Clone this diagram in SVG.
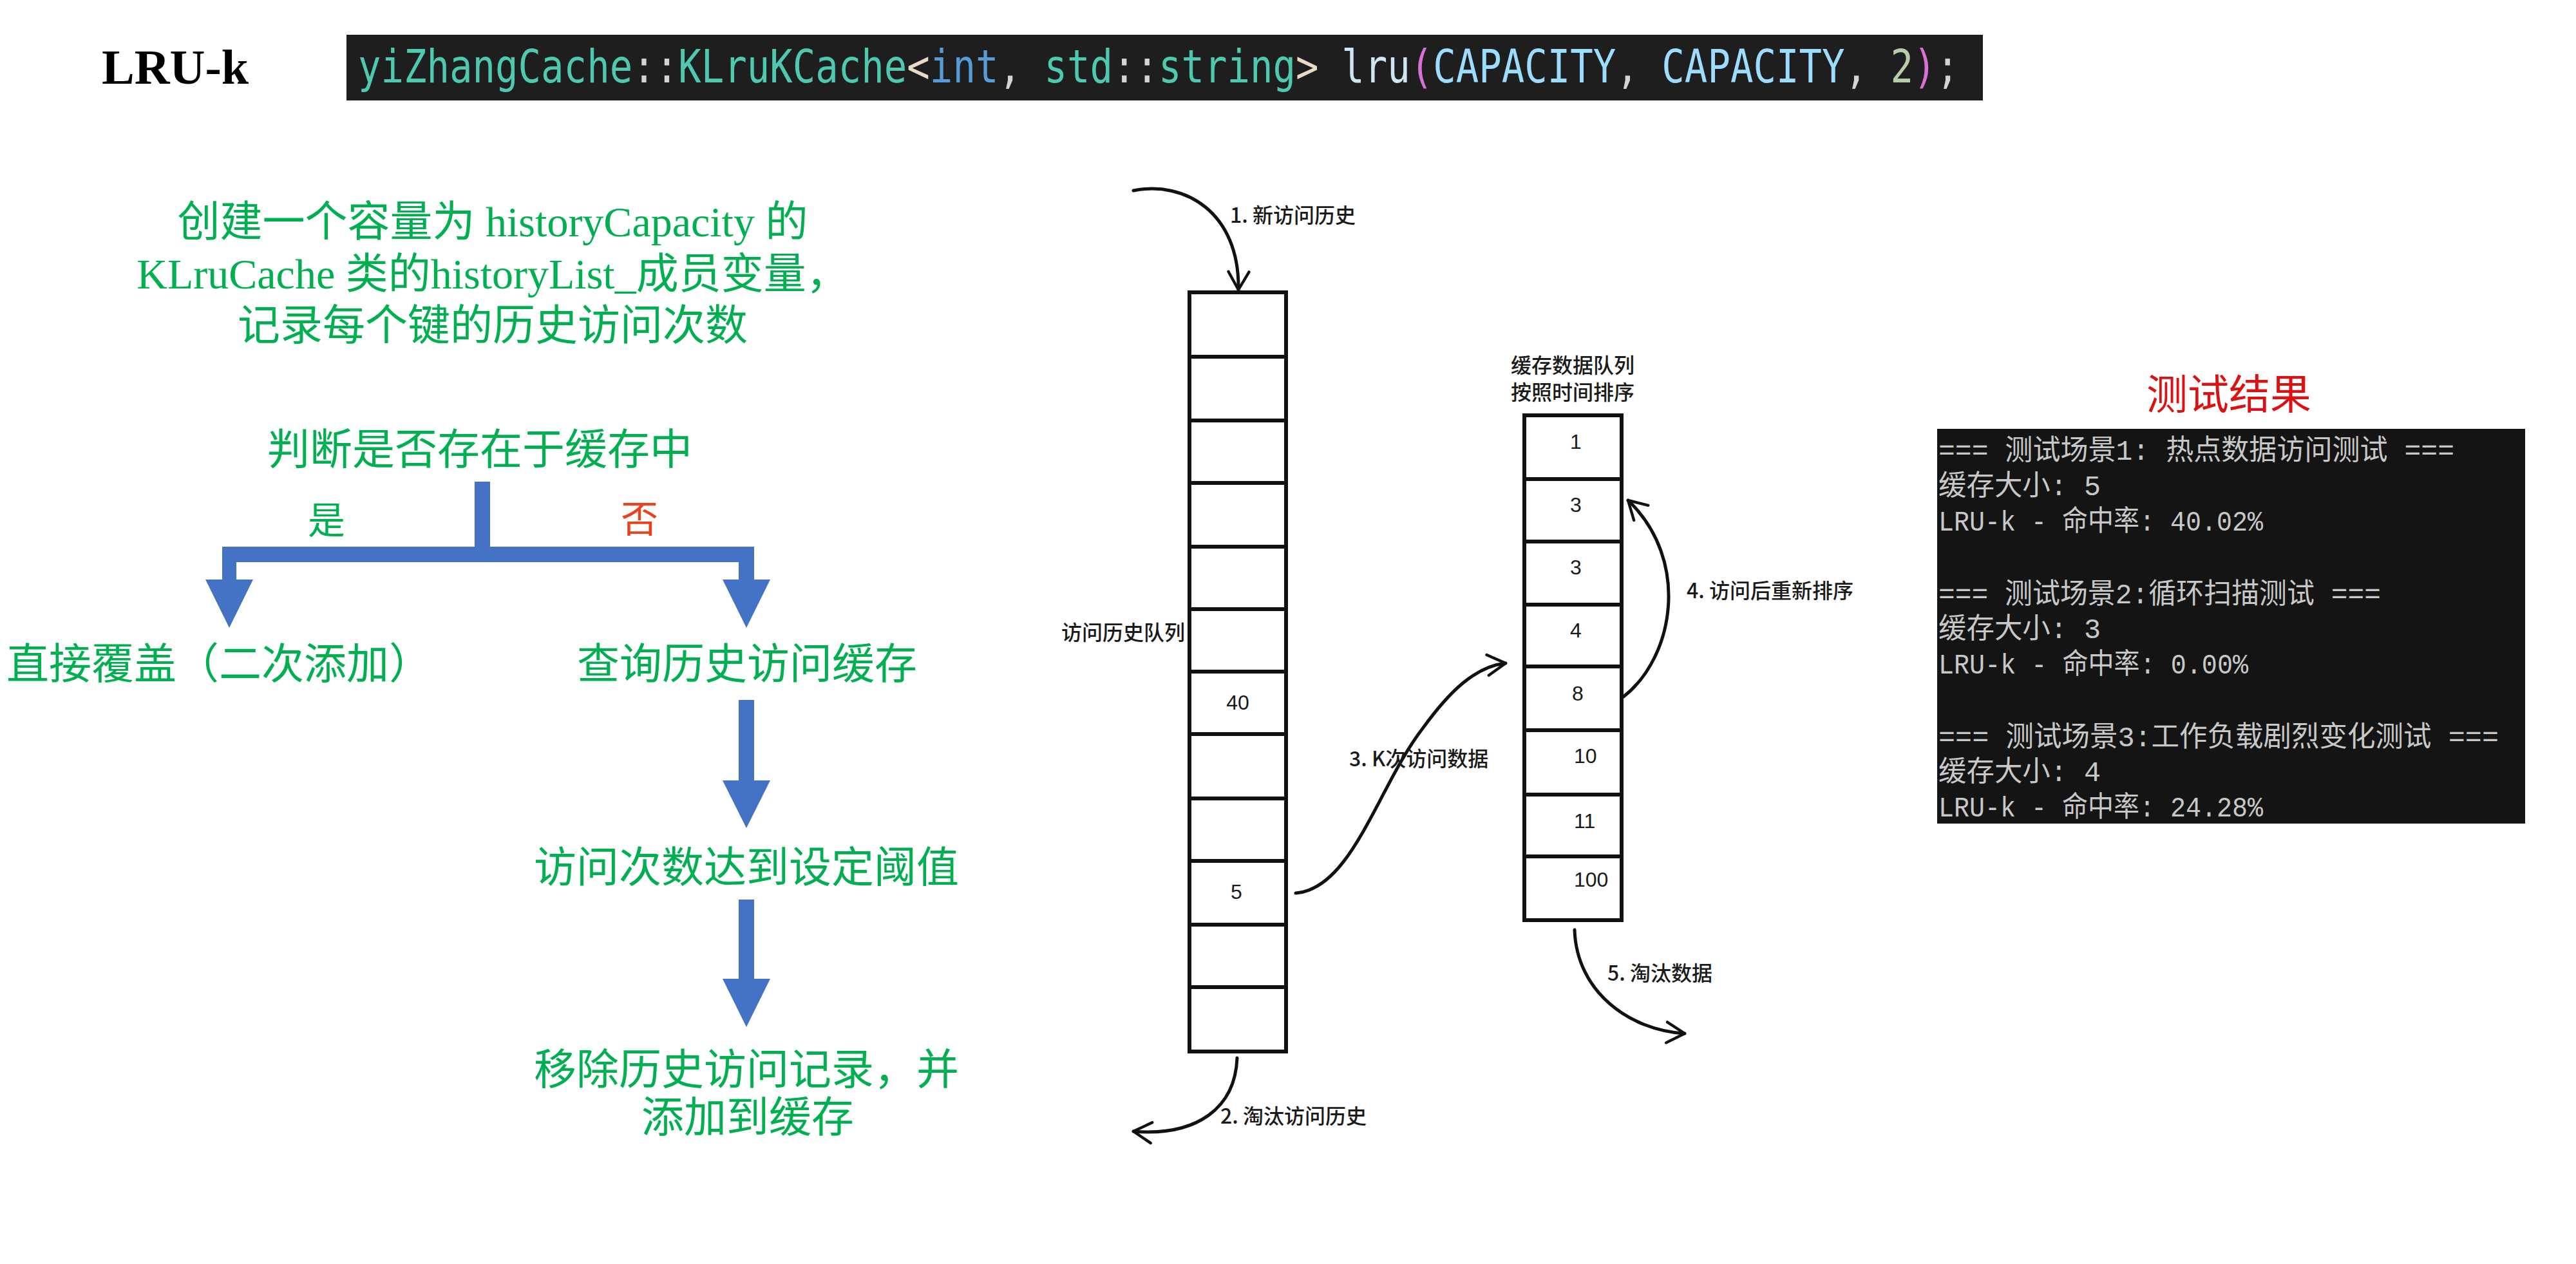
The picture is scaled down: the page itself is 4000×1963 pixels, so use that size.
<svg xmlns="http://www.w3.org/2000/svg" width="4000" height="1963" viewBox="0 0 4000 1963">
<style>
.g{fill:#00B050;font-family:"Liberation Serif","Noto Sans CJK SC",serif;font-size:66px;text-anchor:middle}
.blue{fill:#4472C4}
.cell{fill:#fff;stroke:#111;stroke-width:6}
.lbl{fill:#1a1a1a;font-family:"Noto Sans CJK SC",sans-serif;font-size:32px;font-weight:500}
.num{fill:#1a1a1a;font-family:"Liberation Sans",sans-serif;font-size:32px}
.curve{fill:none;stroke:#111;stroke-width:5;stroke-linecap:round;marker-end:url(#chev)}
.term{fill:#c8c8c8;font-family:"Liberation Mono","Noto Sans CJK SC",monospace;font-size:44px}
.code{font-family:"DejaVu Sans Mono","Liberation Mono",monospace;font-size:59px}
.ty{fill:#4EC9B0}.pu{fill:#d4d4d4}.br{fill:#e8dcc8}.kw{fill:#569CD6}.fn{fill:#cfe6f2}.pa{fill:#DA70D6}.va{fill:#9CDCFE}.nu{fill:#B5CEA8}
</style>
<defs>
<marker id="chev" viewBox="0 0 20 20" refX="18" refY="10" markerWidth="8" markerHeight="8" orient="auto" markerUnits="strokeWidth">
<path d="M4,2 L18,10 L4,18" fill="none" stroke="#111" stroke-width="2.2" stroke-linecap="round" stroke-linejoin="round"/>
</marker>
</defs>
<rect width="4000" height="1963" fill="#fff"/>

<g id="title">
<text x="158" y="130" font-family="Liberation Serif,serif" font-weight="bold" font-size="76" fill="#000">LRU-k</text>
</g>
<g id="code">
<rect x="538" y="54" width="2541" height="102" fill="#1e1e1e"/>
<text class="code" transform="translate(556,128) scale(1,1.22)" x="0" y="0" xml:space="preserve"><tspan class="ty">yiZhangCache</tspan><tspan class="pu">::</tspan><tspan class="ty">KLruKCache</tspan><tspan class="br">&lt;</tspan><tspan class="kw">int</tspan><tspan class="pu">, </tspan><tspan class="ty">std</tspan><tspan class="pu">::</tspan><tspan class="ty">string</tspan><tspan class="br">&gt; </tspan><tspan class="fn">lru</tspan><tspan class="pa">(</tspan><tspan class="va">CAPACITY</tspan><tspan class="pu">, </tspan><tspan class="va">CAPACITY</tspan><tspan class="pu">, </tspan><tspan class="nu">2</tspan><tspan class="pa">)</tspan><tspan class="pu">;</tspan></text>
</g>

<g id="create-history">
<text class="g" x="765" y="367">创建一个容量为 historyCapacity 的</text>
<text class="g" x="765" y="448">KLruCache 类的historyList_成员变量，</text>
<text class="g" x="765" y="528">记录每个键的历史访问次数</text>
</g>
<g id="check-cache"><text class="g" x="745" y="721">判断是否存在于缓存中</text></g>
<g id="yes-label"><text class="g" x="507" y="829" style="font-size:58px">是</text></g>
<g id="no-label"><text class="g" x="993" y="827" style="font-size:58px;fill:#E8411E">否</text></g>
<g id="overwrite"><text class="g" x="340" y="1054">直接覆盖（二次添加）</text></g>
<g id="query-history"><text class="g" x="1160" y="1054">查询历史访问缓存</text></g>
<g id="threshold"><text class="g" x="1159" y="1370">访问次数达到设定阈值</text></g>
<g id="move-to-cache">
<text class="g" x="1159" y="1684">移除历史访问记录，并</text>
<text class="g" x="1161" y="1758">添加到缓存</text>
</g>

<g id="flow-connectors">
<rect class="blue" x="737" y="748" width="24" height="125"/>
<rect class="blue" x="345" y="849" width="826" height="24"/>
<rect class="blue" x="345" y="849" width="22" height="53"/>
<polygon class="blue" points="319,900 393,900 356,975"/>
<rect class="blue" x="1147" y="849" width="24" height="53"/>
<polygon class="blue" points="1122,900 1196,900 1159,975"/>
<rect class="blue" x="1147" y="1087" width="24" height="127"/>
<polygon class="blue" points="1122,1212 1196,1212 1159,1286"/>
<rect class="blue" x="1147" y="1397" width="24" height="125"/>
<polygon class="blue" points="1122,1520 1196,1520 1159,1595"/>
</g>

<g id="history-queue">
<rect class="cell" x="1847" y="454" width="150" height="100"/>
<rect class="cell" x="1847" y="554" width="150" height="99"/>
<rect class="cell" x="1847" y="653" width="150" height="97"/>
<rect class="cell" x="1847" y="750" width="150" height="99"/>
<rect class="cell" x="1847" y="849" width="150" height="97"/>
<rect class="cell" x="1847" y="946" width="150" height="97"/>
<rect class="cell" x="1847" y="1043" width="150" height="97"/>
<rect class="cell" x="1847" y="1140" width="150" height="100"/>
<rect class="cell" x="1847" y="1240" width="150" height="97"/>
<rect class="cell" x="1847" y="1337" width="150" height="99"/>
<rect class="cell" x="1847" y="1436" width="150" height="97"/>
<rect class="cell" x="1847" y="1533" width="150" height="100"/>
<text class="num" x="1922" y="1102" text-anchor="middle">40</text>
<text class="num" x="1920" y="1396" text-anchor="middle">5</text>
<text class="lbl" x="1840" y="994" text-anchor="end">访问历史队列</text>
</g>

<g id="cache-queue">
<rect class="cell" x="2367" y="645" width="151" height="99"/>
<rect class="cell" x="2367" y="744" width="151" height="97"/>
<rect class="cell" x="2367" y="841" width="151" height="98"/>
<rect class="cell" x="2367" y="939" width="151" height="96"/>
<rect class="cell" x="2367" y="1035" width="151" height="99"/>
<rect class="cell" x="2367" y="1134" width="151" height="100"/>
<rect class="cell" x="2367" y="1234" width="151" height="96"/>
<rect class="cell" x="2367" y="1330" width="151" height="99"/>
<text class="num" x="2438" y="697">1</text>
<text class="num" x="2438" y="795">3</text>
<text class="num" x="2438" y="892">3</text>
<text class="num" x="2438" y="990">4</text>
<text class="num" x="2441" y="1088">8</text>
<text class="num" x="2444" y="1185">10</text>
<text class="num" x="2444" y="1286">11</text>
<text class="num" x="2444" y="1377">100</text>
<text class="lbl" x="2442" y="579" text-anchor="middle">缓存数据队列</text>
<text class="lbl" x="2442" y="621" text-anchor="middle">按照时间排序</text>
</g>

<g id="diagram-connectors">
<path class="curve" d="M1760,296 C1840,280 1925,330 1923,450"/>
<path class="curve" d="M1921,1643 C1918,1720 1860,1765 1760,1757"/>
<path class="curve" d="M2012,1387 C2100,1380 2140,1220 2210,1130 C2250,1075 2290,1035 2338,1030"/>
<path class="curve" d="M2521,1082 C2600,1020 2625,870 2528,777"/>
<path class="curve" d="M2445,1444 C2448,1540 2530,1600 2616,1605"/>
</g>
<g id="step-labels">
<text class="lbl" x="1910" y="346">1. 新访问历史</text>
<text class="lbl" x="1895" y="1745">2. 淘汰访问历史</text>
<text class="lbl" x="2095" y="1190">3. K次访问数据</text>
<text class="lbl" x="2619" y="929">4. 访问后重新排序</text>
<text class="lbl" x="2496" y="1523">5. 淘汰数据</text>
</g>

<g id="test-title">
<text x="3461" y="635" text-anchor="middle" font-family="Liberation Serif,'Noto Sans CJK SC',serif" font-size="64" fill="#DD1111">测试结果</text>
</g>
<g id="test-results">
<rect x="3008" y="666" width="913" height="613" fill="#141414"/>
<text class="term" x="3010" y="714" textLength="801" lengthAdjust="spacingAndGlyphs">=== 测试场景1: 热点数据访问测试 ===</text>
<text class="term" x="3010" y="769" textLength="252" lengthAdjust="spacingAndGlyphs">缓存大小: 5</text>
<text class="term" x="3010" y="824" textLength="504" lengthAdjust="spacingAndGlyphs">LRU-k - 命中率: 40.02%</text>
<text class="term" x="3010" y="937" textLength="687" lengthAdjust="spacingAndGlyphs">=== 测试场景2:循环扫描测试 ===</text>
<text class="term" x="3010" y="991" textLength="252" lengthAdjust="spacingAndGlyphs">缓存大小: 3</text>
<text class="term" x="3010" y="1046" textLength="481" lengthAdjust="spacingAndGlyphs">LRU-k - 命中率: 0.00%</text>
<text class="term" x="3010" y="1159" textLength="870" lengthAdjust="spacingAndGlyphs">=== 测试场景3:工作负载剧烈变化测试 ===</text>
<text class="term" x="3010" y="1213" textLength="252" lengthAdjust="spacingAndGlyphs">缓存大小: 4</text>
<text class="term" x="3010" y="1268" textLength="504" lengthAdjust="spacingAndGlyphs">LRU-k - 命中率: 24.28%</text>
</g>
</svg>
